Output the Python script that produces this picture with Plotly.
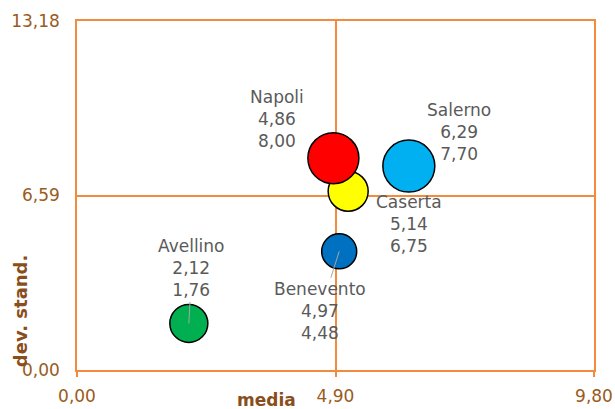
import plotly.graph_objects as go

# province data: media (x), dev. stand. (y), bubble size
province = ['Avellino', 'Benevento', 'Caserta', 'Napoli', 'Salerno']
media = [2.12, 4.97, 5.14, 4.86, 6.29]
dev_stand = [1.76, 4.48, 6.75, 8.00, 7.70]
dimensione = [38, 35, 40, 51, 52]
colori = ['#00B050', '#0070C0', '#FFFF00', '#FF0000', '#00B0F0']

x_ticks = [0, 4.90, 9.80]
y_ticks = [0, 6.59, 13.18]

# label offsets in pixels (ax, ay) and whether a leader line is shown
label_offsets = {
    'Avellino': (3, -55, True),
    'Benevento': (-19, 60, True),
    'Caserta': (61, 33, False),
    'Napoli': (-56, -39, False),
    'Salerno': (50, -34, False),
}

orange = '#F28C3C'
tick_col = '#9A5B20'
title_col = '#8A4E1C'
label_col = '#5A5A5A'
font_fam = 'DejaVu Sans'


def fmt(v):
    return f'{v:.2f}'.replace('.', ',')
#enddef

fig = go.Figure()
fig.add_trace(go.Scatter(
    x=media, y=dev_stand, mode='markers',
    marker=dict(size=dimensione, sizemode='diameter', color=colori,
                line=dict(color='black', width=1.5), opacity=1),
    hoverinfo='skip', showlegend=False,
))

for name, x, y in zip(province, media, dev_stand):
    ax, ay, leader = label_offsets[name]
    fig.add_annotation(
        x=x, y=y, xref='x', yref='y',
        text=f'{name}<br>{fmt(x)}<br>{fmt(y)}',
        showarrow=True, ax=ax, ay=ay, arrowhead=0,
        arrowwidth=1 if leader else 0.1,
        arrowcolor='#A6A6A6' if leader else 'rgba(0,0,0,0)',
        standoff=0,
        font=dict(family=font_fam, size=17, color=label_col),
        align='center',
    )
#endfor

fig.add_annotation(x=0.3675, y=-0.086, xref='paper', yref='paper',
                   text='<b>media</b>', showarrow=False,
                   xanchor='center', yanchor='middle',
                   font=dict(family=font_fam, size=17, color=title_col))
fig.add_annotation(x=-0.11, y=0.169, xref='paper', yref='paper',
                   text='<b>dev. stand.</b>', showarrow=False, textangle=-90,
                   xanchor='center', yanchor='middle',
                   font=dict(family=font_fam, size=18, color=title_col))

fig.update_xaxes(range=[0, 9.80], tickvals=x_ticks, tickformat='.2f',
                 showgrid=True, gridcolor=orange, gridwidth=1.5,
                 showline=True, linecolor=orange, linewidth=1.5, mirror=True,
                 ticks='outside', ticklen=5, tickcolor=orange, tickwidth=1.5,
                 zeroline=False, automargin=False, ticklabelstandoff=5,
                 tickfont=dict(family=font_fam, size=17, color=tick_col))
fig.update_yaxes(range=[0, 13.18], tickvals=y_ticks, tickformat='.2f',
                 showgrid=True, gridcolor=orange, gridwidth=1.5,
                 showline=True, linecolor=orange, linewidth=1.5, mirror=True,
                 ticks='', zeroline=False, ticklabelstandoff=12,
                 automargin=False,
                 tickfont=dict(family=font_fam, size=17, color=tick_col))

fig.update_layout(
    width=615, height=409,
    margin=dict(l=77, r=21, t=21, b=39),
    separators=',.',
    plot_bgcolor='white', paper_bgcolor='white',
    showlegend=False,
)

# drop the browser's default body margin so the figure sits at (0, 0)
fig.write_html('out.html', config={'displayModeBar': False},
               post_script="document.body.style.margin='0';")
